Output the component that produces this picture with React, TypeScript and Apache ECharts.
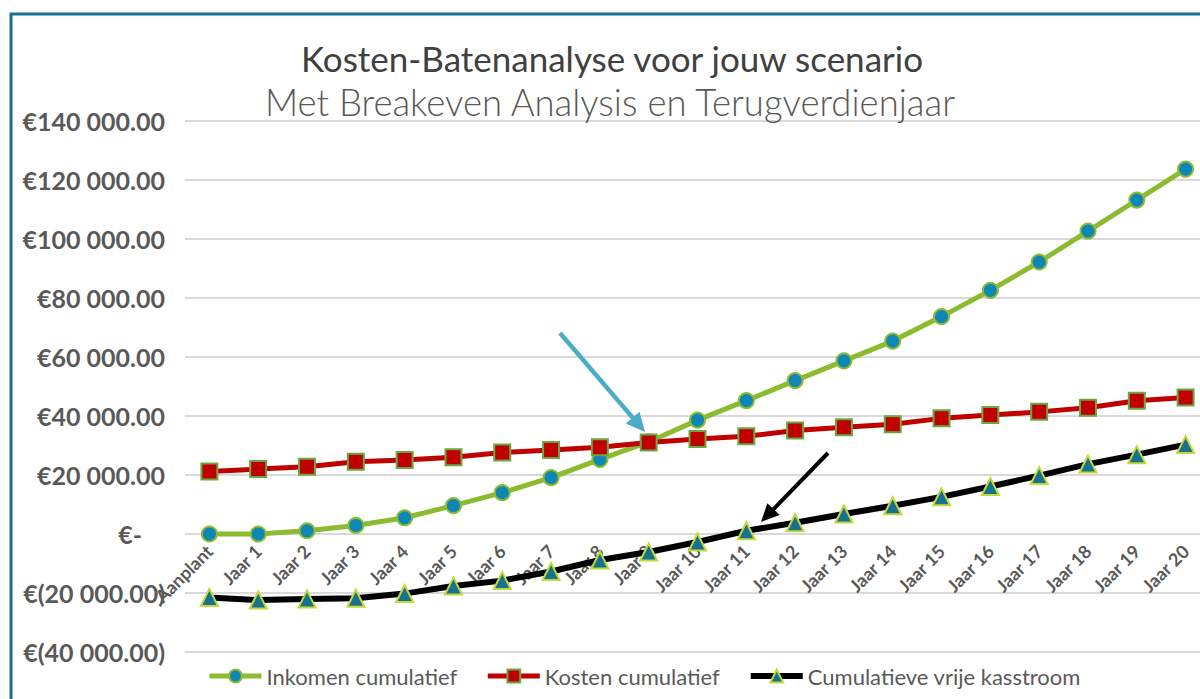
import React, { useEffect, useRef } from "react";
import * as echarts from "echarts";

const categories = [
  "Aanplant", "Jaar 1", "Jaar 2", "Jaar 3", "Jaar 4", "Jaar 5", "Jaar 6", "Jaar 7",
  "Jaar 8", "Jaar 9", "Jaar 10", "Jaar 11", "Jaar 12", "Jaar 13", "Jaar 14", "Jaar 15",
  "Jaar 16", "Jaar 17", "Jaar 18", "Jaar 19", "Jaar 20",
];
const inkomenCumulatief = [
  0, 0, 1100, 2900, 5500, 9600, 14000, 19100, 25300, 31200, 38600,
  45200, 52000, 58700, 65400, 73700, 82600, 92200, 102700, 113200, 123700,
];
const kostenCumulatief = [
  21200, 22000, 22800, 24500, 25100, 26000, 27600, 28500, 29400, 31000, 32200,
  33100, 35100, 36200, 37200, 39200, 40300, 41400, 42800, 45200, 46300,
];
const vrijeKasstroom = [
  -21500, -22400, -22000, -21800, -20200, -17600, -15800, -12700, -8800, -6100, -2700,
  1100, 3800, 6800, 9600, 12600, 16100, 19800, 23700, 26900, 30300,
];
const seriesNames = ["Inkomen cumulatief", "Kosten cumulatief", "Cumulatieve vrije kasstroom"];
const titleText = "Kosten-Batenanalyse voor jouw scenario";
const subtitleText = "Met Breakeven Analysis en Terugverdienjaar";
const yMin = -40000;
const yMax = 140000;
const yInterval = 20000;

const FONT = "Lato, 'Noto Sans', sans-serif";
const GREY = "#595959";

const GRID_TOP = 121;
const GRID_BOTTOM = 47;
const CHART_H = 699;

function formatEuro(v: number): string {
  if (v === 0) return "{z|€-}";
  const s = Math.abs(v).toFixed(2);
  const [intPart, dec] = s.split(".");
  const grouped = intPart.replace(/\B(?=(\d{3})+(?!\d))/g, " ");
  return v < 0 ? `€(${grouped}.${dec})` : `€${grouped}.${dec}`;
}

function arrowHead(tipX: number, tipY: number, fromX: number, fromY: number, len: number, half: number) {
  const dx = tipX - fromX;
  const dy = tipY - fromY;
  const L = Math.sqrt(dx * dx + dy * dy);
  const ux = dx / L;
  const uy = dy / L;
  const bx = tipX - ux * len;
  const by = tipY - uy * len;
  const px = -uy * half;
  const py = ux * half;
  return {
    base: [bx + ux * 2, by + uy * 2],
    points: [
      [tipX, tipY],
      [bx + px, by + py],
      [bx - px, by - py],
    ],
  };
}

export default function App() {
  const ref = useRef<HTMLDivElement>(null);

  useEffect(() => {
    if (!ref.current) return;
    const chart = echarts.init(ref.current, undefined, { renderer: "svg" });

    const cyan = arrowHead(645, 432, 560, 333, 19, 9);
    const blk = arrowHead(761, 522, 828, 453, 18, 8.5);

    // distance in pixels from the grid bottom (yMin) up to the zero line
    const gridH = CHART_H - GRID_TOP - GRID_BOTTOM;
    const zeroOffset = (gridH * (0 - yMin)) / (yMax - yMin);

    chart.setOption({
      animation: false,
      backgroundColor: "#ffffff",
      title: [
        {
          text: titleText,
          left: 607,
          top: 35,
          textAlign: "center",
          textStyle: { fontFamily: FONT, fontSize: 35, fontWeight: "normal", color: "#404040" },
        },
        {
          text: subtitleText,
          left: 605,
          top: 78,
          textAlign: "center",
          textStyle: { fontFamily: FONT, fontSize: 36.5, fontWeight: 300, color: GREY },
        },
      ],
      legend: {
        left: 202,
        top: 660,
        itemWidth: 52,
        itemHeight: 16,
        itemGap: 28,
        textStyle: { fontFamily: FONT, fontSize: 22, color: GREY },
        data: [
          { name: seriesNames[0], lineStyle: { width: 5 } },
          { name: seriesNames[1], lineStyle: { width: 5 } },
          { name: seriesNames[2], lineStyle: { width: 6 } },
        ],
      },
      grid: {
        left: 185,
        right: -10,
        top: GRID_TOP,
        bottom: GRID_BOTTOM,
        containLabel: false,
        outerBoundsMode: "none",
      },
      xAxis: {
        type: "category",
        data: categories,
        boundaryGap: true,
        position: "bottom",
        offset: -zeroOffset,
        axisLine: { show: false, onZero: false },
        axisTick: { show: false },
        axisLabel: {
          rotate: 45,
          interval: 0,
          margin: 14,
          fontFamily: FONT,
          fontSize: 18,
          fontWeight: "bold",
          color: GREY,
        },
        splitLine: { show: false },
      },
      yAxis: {
        type: "value",
        min: yMin,
        max: yMax,
        interval: yInterval,
        axisLine: { show: false },
        axisTick: { show: false },
        splitLine: { show: true, lineStyle: { color: "#D9D9D9", width: 2 } },
        axisLabel: {
          margin: 20,
          fontFamily: FONT,
          fontSize: 25,
          fontWeight: "bold",
          color: GREY,
          formatter: (v: number) => formatEuro(v),
          rich: {
            z: {
              fontFamily: FONT,
              fontSize: 25,
              fontWeight: "bold",
              color: GREY,
              padding: [0, 23, 0, 0],
            },
          },
        },
      },
      series: [
        {
          name: seriesNames[0],
          type: "line",
          data: inkomenCumulatief,
          symbol: "circle",
          symbolSize: 15,
          lineStyle: { color: "#8DBB30", width: 5 },
          itemStyle: { color: "#0E86B6", borderColor: "#8DBB30", borderWidth: 2 },
          z: 2,
        },
        {
          name: seriesNames[1],
          type: "line",
          data: kostenCumulatief,
          symbol: "rect",
          symbolSize: 16,
          lineStyle: { color: "#C00000", width: 5 },
          itemStyle: { color: "#C00000", borderColor: "#6AA842", borderWidth: 2 },
          z: 3,
        },
        {
          name: seriesNames[2],
          type: "line",
          data: vrijeKasstroom,
          symbol: "triangle",
          symbolSize: 17,
          lineStyle: { color: "#000000", width: 6 },
          itemStyle: { color: "#17728F", borderColor: "#C5D83A", borderWidth: 2 },
          z: 4,
        },
      ],
      graphic: [
        {
          type: "rect",
          shape: { x: 11, y: 14, width: 1400, height: 900 },
          style: { fill: "none", stroke: "#17708F", lineWidth: 3 },
          silent: true,
        },
        {
          type: "line",
          shape: { x1: 560, y1: 333, x2: cyan.base[0], y2: cyan.base[1] },
          style: { stroke: "#4BACC6", lineWidth: 4.5 },
          z: 100,
        },
        {
          type: "polygon",
          shape: { points: cyan.points },
          style: { fill: "#4BACC6" },
          z: 100,
        },
        {
          type: "line",
          shape: { x1: 828, y1: 453, x2: blk.base[0], y2: blk.base[1] },
          style: { stroke: "#000000", lineWidth: 4 },
          z: 100,
        },
        {
          type: "polygon",
          shape: { points: blk.points },
          style: { fill: "#000000" },
          z: 100,
        },
      ],
    });

    return () => chart.dispose();
  }, []);

  return (
    <div
      ref={ref}
      style={{ position: "absolute", left: 0, top: 0, width: 1200, height: 699 }}
    />
  );
}
